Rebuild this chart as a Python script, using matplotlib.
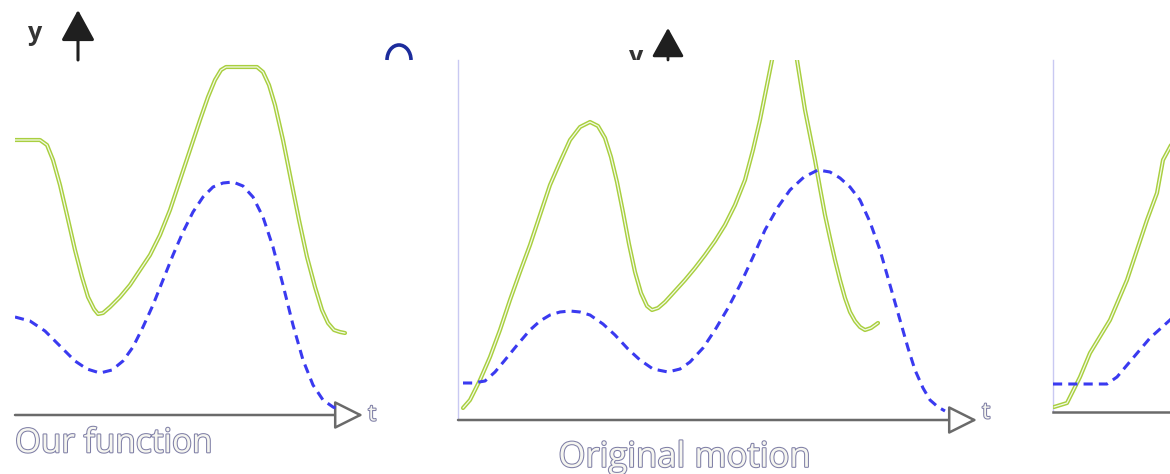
import matplotlib
matplotlib.use("Agg")
import matplotlib.pyplot as plt
import matplotlib.patheffects as pe
from matplotlib.patches import Arc
from matplotlib.transforms import Bbox, TransformedBbox

# ---------------------------------------------------------------- data
# Panel 1: "Our function"
fn_t = [0.0, 2.5, 3.2, 3.8, 4.5, 5.2, 6.0, 6.7, 7.3, 7.9, 8.3, 8.8, 9.5, 10.5,
        11.5, 12.5, 13.5, 14.5, 15.5, 16.5, 17.5, 18.5, 19.3, 20.0, 20.6, 21.1,
        24.2, 24.8, 25.4, 26.0, 26.8, 27.6, 28.4, 29.2, 30.0, 30.7, 31.3, 31.9,
        32.5, 33.0]
fn_y = [27.5, 27.5, 27.0, 25.5, 23.0, 20.0, 16.5, 13.8, 11.8, 10.6, 10.1, 10.2,
        10.8, 11.8, 13.0, 14.5, 16.0, 18.0, 20.5, 23.5, 26.5, 29.5, 31.8, 33.5,
        34.5, 34.8, 34.8, 34.3, 33.0, 31.0, 27.5, 23.5, 19.5, 15.8, 12.8, 10.5,
        9.2, 8.5, 8.3, 8.2]
fn_ref_t = [0.0, 1.5, 3.0, 4.5, 6.0, 7.2, 8.5, 9.7, 10.8, 11.8, 12.8, 13.8,
            14.8, 15.8, 16.8, 17.8, 18.8, 19.8, 20.8, 21.8, 22.8, 23.8, 24.8,
            25.8, 26.8, 27.8, 28.8, 29.8, 30.8, 31.8, 32.5]
fn_ref_y = [9.8, 9.4, 8.4, 6.9, 5.4, 4.6, 4.2, 4.5, 5.4, 6.8, 8.8, 11.0, 13.5,
            16.0, 18.3, 20.3, 21.8, 22.8, 23.2, 23.3, 22.9, 21.8, 19.8, 16.8,
            13.0, 9.0, 5.5, 3.0, 1.5, 0.8, 0.5]

# Panel 2: "Original motion"
orig_t = [0.5, 1.2, 2.2, 3.2, 4.2, 5.2, 6.2, 7.2, 8.2, 9.2, 10.2, 11.2, 12.2,
          13.2, 14.0, 14.7, 15.3, 15.9, 16.5, 17.1, 17.7, 18.3, 18.9, 19.4,
          20.0, 20.7, 21.7, 22.7, 23.7, 24.7, 25.7, 26.7, 27.7, 28.7, 29.5,
          30.2, 30.8, 31.4, 32.0, 32.7, 33.4, 33.9, 34.3, 34.7, 35.2, 35.7,
          36.2, 36.7, 37.2, 37.7, 38.2, 38.7, 39.2, 39.7, 40.2, 40.7, 41.3, 42.0]
orig_y = [1.2, 2.0, 4.0, 6.3, 9.0, 12.0, 14.8, 17.5, 20.5, 23.5, 25.8, 28.0,
          29.3, 29.8, 29.4, 28.2, 26.3, 23.8, 20.8, 17.6, 14.8, 12.7, 11.4,
          11.0, 11.2, 11.8, 12.9, 14.0, 15.2, 16.5, 17.9, 19.5, 21.5, 24.0,
          27.0, 30.0, 33.0, 36.0, 38.5, 39.5, 38.5, 36.0, 33.5, 31.0, 28.5,
          26.0, 23.2, 20.5, 18.2, 16.0, 14.0, 12.2, 10.8, 9.9, 9.3, 9.0, 9.2, 9.7]
orig_ref_t = [0.5, 1.5, 2.7, 3.7, 4.7, 6.0, 7.2, 8.2, 9.2, 10.2, 11.2, 12.2,
              13.2, 14.5, 15.7, 17.0, 18.2, 19.5, 21.0, 22.2, 23.2, 24.5, 25.7,
              27.0, 28.2, 29.5, 30.7, 32.0, 33.2, 34.6, 36.0, 37.2, 38.2, 39.2,
              40.2, 41.2, 42.2, 43.2, 44.2, 45.0, 45.7, 46.5, 47.2, 48.0, 48.7]
orig_ref_y = [3.7, 3.7, 3.9, 4.8, 6.0, 7.6, 9.0, 9.9, 10.5, 10.8, 10.9, 10.8,
              10.5, 9.6, 8.5, 7.1, 6.0, 5.1, 4.8, 5.1, 5.8, 7.2, 9.0, 11.2,
              13.5, 16.3, 19.0, 21.3, 23.0, 24.3, 25.0, 24.8, 24.2, 23.3, 22.0,
              19.8, 17.0, 13.5, 10.0, 7.2, 5.0, 3.2, 2.0, 1.3, 0.9]

# Panel 3 (partly visible)
third_t = [0.1, 1.4, 2.7, 3.7, 5.7, 7.4, 8.4, 9.4, 10.4, 11.0, 11.7, 12.5]
third_y = [0.5, 0.9, 3.5, 5.9, 9.2, 13.2, 16.2, 19.2, 21.9, 25.2, 26.5, 28.0]
third_ref_t = [0.0, 5.4, 6.4, 8.0, 9.7, 11.7, 12.5]
third_ref_y = [2.8, 2.8, 3.5, 5.4, 7.4, 9.2, 10.0]

titles = ["Our function", "Original motion"]

# ---------------------------------------------------------------- figure
W, H = 1170, 474
fig = plt.figure(figsize=(W / 100, H / 100), dpi=100)
fig.patch.set_facecolor("white")


def rect(left, top, right, bottom):
    return [left / W, 1 - bottom / H, (right - left) / W, (bottom - top) / H]


GREEN_OUT = "#a9cf3f"
GREEN_IN = "#f3faea"
BLUE = "#3a3af0"
AXIS_GREY = "#6a6a6a"
hollow = [pe.withStroke(linewidth=1.5, foreground="#7f7fa6")]
TEXT_FILL = "#f6f6f0"


def draw_curves(ax, t, y, rt, ry):
    ax.plot(t, y, color=GREEN_OUT, lw=3.0, solid_capstyle="round",
            solid_joinstyle="round", zorder=3)
    ax.plot(t, y, color=GREEN_IN, lw=0.9, solid_capstyle="round",
            solid_joinstyle="round", zorder=4)
    ax.plot(rt, ry, color=BLUE, lw=2.2, linestyle=(0, (3, 2)), zorder=5)


def x_axis_arrow(ax, tip_frac):
    ax.annotate("", xy=(tip_frac, 0), xytext=(0, 0), xycoords="axes fraction",
                textcoords="axes fraction", annotation_clip=False,
                arrowprops=dict(arrowstyle="-|>,head_length=0.9,head_width=0.45",
                                mutation_scale=20, fc="white", ec=AXIS_GREY,
                                lw=1.8, shrinkA=0, shrinkB=0))


def setup(ax, xmax, ymax):
    ax.set_xlim(0, xmax)
    ax.set_ylim(0, ymax)
    ax.axis("off")
    ax.patch.set_visible(False)


# Panel 1
ax1 = fig.add_axes(rect(15, 55, 363, 415))
setup(ax1, 34.8, 36.0)
draw_curves(ax1, fn_t, fn_y, fn_ref_t, fn_ref_y)
x_axis_arrow(ax1, 1.0)
ax1.text(1.015, 0.0, "t", transform=ax1.transAxes, fontsize=16, family="Open Sans",
         color=TEXT_FILL, va="center", ha="left", path_effects=hollow)
ax1.text(0.0, -0.08, titles[0], transform=ax1.transAxes, fontsize=24,
         family="Open Sans", color=TEXT_FILL, va="center", ha="left",
         path_effects=hollow)

# Panel 2
ax2 = fig.add_axes(rect(458, 60, 977, 420))
setup(ax2, 51.9, 36.0)
ax2.patch.set_visible(True)
ax2.patch.set_facecolor("white")
draw_curves(ax2, orig_t, orig_y, orig_ref_t, orig_ref_y)
ax2.plot([0, 0], [0, 36.0], color="#c9c9f2", lw=1.0, clip_on=False)
x_axis_arrow(ax2, 1.0)
ax2.text(1.01, 0.02, "t", transform=ax2.transAxes, fontsize=16, family="Open Sans",
         color=TEXT_FILL, va="center", ha="left", path_effects=hollow)
ax2.text(0.437, -0.105, titles[1], transform=ax2.transAxes, fontsize=25,
         family="Open Sans", color=TEXT_FILL, va="center", ha="center",
         path_effects=hollow)

# Panel 3
ax3 = fig.add_axes(rect(1053, 60, 1260, 412))
setup(ax3, 20.7, 35.2)
draw_curves(ax3, third_t, third_y, third_ref_t, third_ref_y)
ax3.plot([0, 0], [0, 35.2], color="#c9c9f2", lw=1.0, clip_on=False)
ax3.plot([0, 20.7], [0, 0], color=AXIS_GREY, lw=1.8, clip_on=False)

# y-axis arrows and labels, drawn on a full-figure overlay in pixel units
ax_over = fig.add_axes([0, 0, 1, 1], zorder=-1)
ax_over.set_xlim(0, W)
ax_over.set_ylim(H, 0)
ax_over.axis("off")

ax_over.annotate("", xy=(78, 10), xytext=(78, 60),
                 arrowprops=dict(arrowstyle="-|>,head_length=0.95,head_width=0.52",
                                 mutation_scale=20, fc="#1f1f1f", ec="#1f1f1f",
                                 lw=2.2, shrinkA=0, shrinkB=0))
ax_over.text(35, 33, "y", fontsize=18, fontweight="bold", color="#333333",
             ha="center", va="center", family="Open Sans")

ax_over.annotate("", xy=(668, 28), xytext=(668, 60),
                 arrowprops=dict(arrowstyle="-|>,head_length=0.9,head_width=0.5",
                                 mutation_scale=20, fc="#1f1f1f", ec="#1f1f1f",
                                 lw=2.0, shrinkA=0, shrinkB=0))
ylab = ax_over.text(636, 57, "y", fontsize=18, fontweight="bold", color="#333333",
                    ha="center", va="center", family="Open Sans")
ylab.set_clip_box(TransformedBbox(Bbox([[0, (H - 60) / H], [1, 1]]),
                                  fig.transFigure))
ylab.set_clip_on(True)

ax_over.add_patch(Arc((399, 60), 24, 30, theta1=180, theta2=360,
                      color="#1c2c9c", lw=2.6))

fig.savefig("out.png", dpi=100, facecolor="white")
